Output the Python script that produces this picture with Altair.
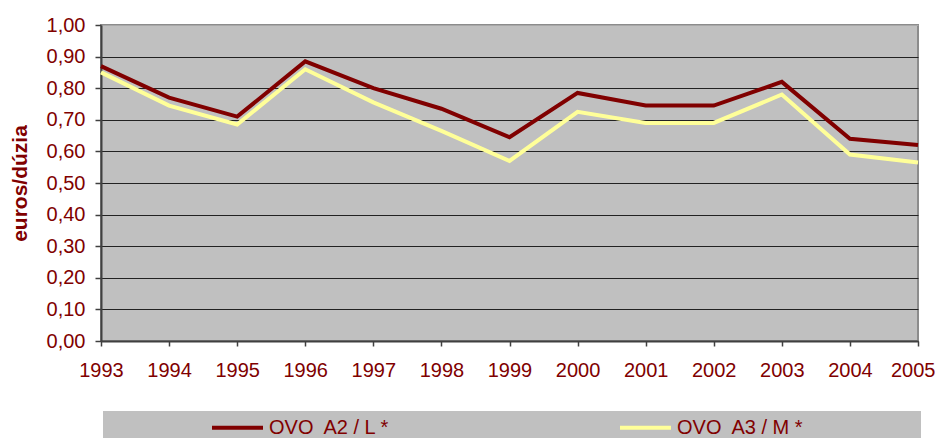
import altair as alt
import pandas as pd

# ---- data ----
years = [1993, 1994, 1995, 1996, 1997, 1998, 1999, 2000, 2001, 2002, 2003, 2004, 2005]
ovo_a2_l = [0.87, 0.77, 0.71, 0.885, 0.80, 0.735, 0.645, 0.785, 0.745, 0.745, 0.82, 0.64, 0.62]
ovo_a3_m = [0.85, 0.745, 0.685, 0.86, 0.755, 0.665, 0.57, 0.725, 0.69, 0.69, 0.78, 0.59, 0.565]
series_names = ["OVO\u00a0 A2 / L *", "OVO\u00a0 A3 / M *"]
series_colors = ["#800000", "#FFFF99"]
y_ticks = [0.0, 0.1, 0.2, 0.3, 0.4, 0.5, 0.6, 0.7, 0.8, 0.9, 1.0]
y_title = "euros/dúzia"

df = pd.DataFrame({
    "ano": years + years,
    "valor": ovo_a2_l + ovo_a3_m,
    "serie": [series_names[0]] * len(years) + [series_names[1]] * len(years),
})

RED = "#800000"
FONT = "Liberation Sans"

# grey band behind the legend (decoration)
box = alt.Chart(pd.DataFrame({"k": [0]})).mark_rect(color="#C0C0C0").encode(
    x=alt.value(2), x2=alt.value(820), y=alt.value(386), y2=alt.value(420)
)

lines = alt.Chart(df).mark_line(strokeWidth=4).encode(
    x=alt.X(
        "ano:Q",
        scale=alt.Scale(domain=[years[0], years[-1]], nice=False, zero=False),
        axis=alt.Axis(
            values=years, format="d", title=None, grid=False,
            domainColor="#404040", domainWidth=2,
            tickColor="#404040", tickSize=5, tickWidth=1.5,
            labelFont=FONT, labelFontSize=20, labelColor=RED, labelPadding=14,
            labelFlush=False, labelOverlap=False, labelBound=False,
            labelAlign={"condition": {"test": "datum.value >= 2005", "value": "right"}, "value": "center"},
            labelOffset={"condition": {"test": "datum.value >= 2005", "value": 17}, "value": 0},
        ),
    ),
    y=alt.Y(
        "valor:Q",
        scale=alt.Scale(domain=[0, 1], nice=False),
        axis=alt.Axis(
            values=y_ticks, title=y_title,
            labelExpr="replace(format(datum.value, '.2f'), '.', ',')",
            domainColor="#404040", domainWidth=2,
            tickColor="#404040", tickSize=6, tickWidth=1.5,
            gridColor={"condition": {"test": "datum.value >= 1", "value": "#A8A8A8"}, "value": "#222222"},
            gridWidth=1.2, gridOpacity=1,
            labelFont=FONT, labelFontSize=20, labelColor=RED, labelPadding=10,
            titleFont=FONT, titleFontSize=21, titleFontWeight="bold", titleColor=RED,
            titlePadding=16,
        ),
    ),
    color=alt.Color(
        "serie:N",
        scale=alt.Scale(domain=series_names, range=series_colors),
        legend=alt.Legend(
            orient="none", legendX=109, legendY=375, direction="horizontal",
            title=None, symbolType="stroke", symbolSize=2601, symbolStrokeWidth=4,
            labelFont=FONT, labelFontSize=20, labelColor=RED, labelOffset=4,
            columnPadding=221, padding=0, labelLimit=300,
        ),
    ),
)

chart = alt.layer(box, lines).properties(
    width=817,
    height=316,
    autosize=alt.AutoSizeParams(type="none"),
    padding={"left": 93, "top": 17, "right": 17, "bottom": 97},
).configure_view(
    fill="#C0C0C0", stroke="#8C8C8C", strokeWidth=2
)

chart.save("out.html", embed_options={"renderer": "svg", "actions": False})
